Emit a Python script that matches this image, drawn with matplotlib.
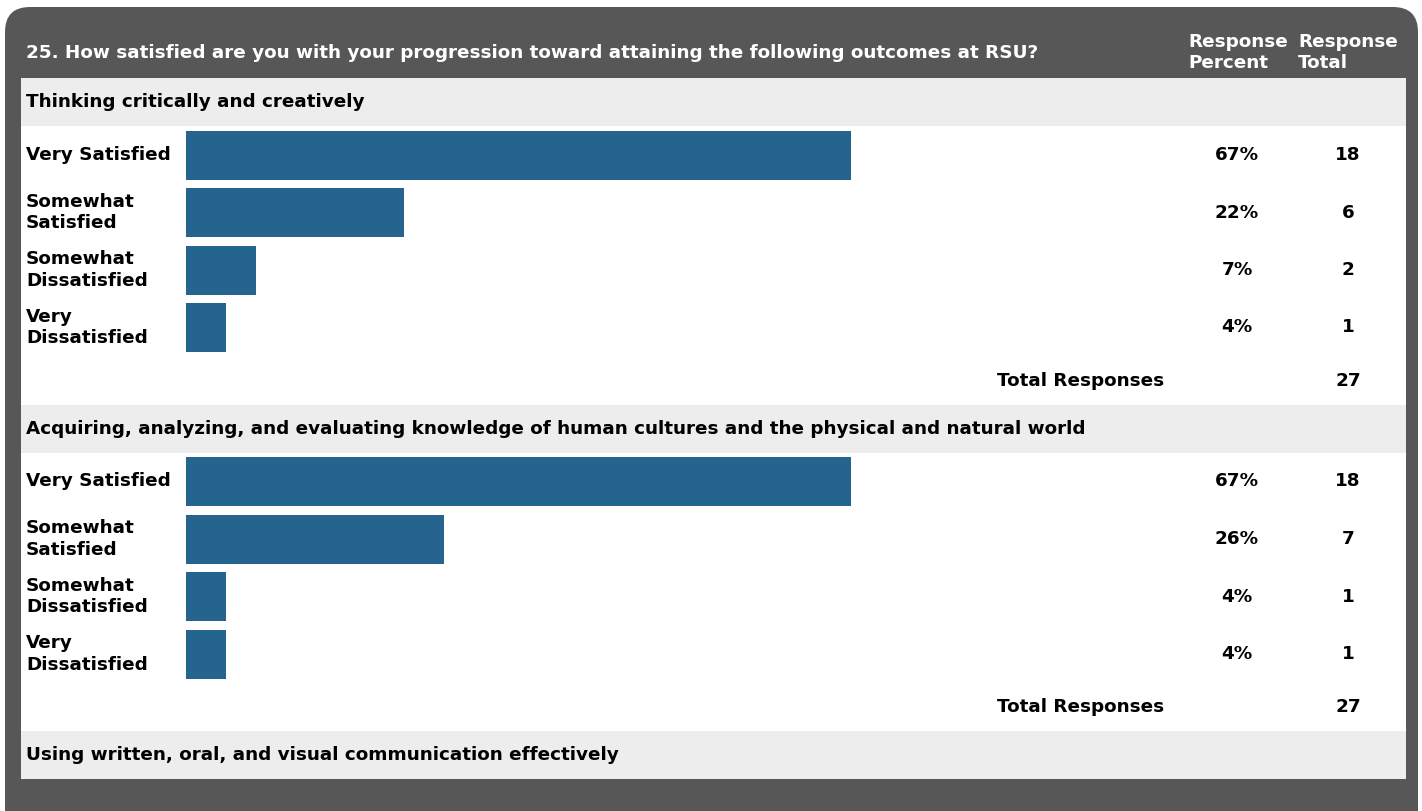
import matplotlib
matplotlib.use("Agg")
import matplotlib.pyplot as plt
from matplotlib.patches import FancyBboxPatch, Rectangle

# ---------------- data ----------------
question = "25. How satisfied are you with your progression toward attaining the following outcomes at RSU?"
col_headers = ["Response\nPercent", "Response\nTotal"]
categories = ["Very Satisfied", "Somewhat\nSatisfied", "Somewhat\nDissatisfied", "Very\nDissatisfied"]
sections = ["Thinking critically and creatively",
            "Acquiring, analyzing, and evaluating knowledge of human cultures and the physical and natural world",
            "Using written, oral, and visual communication effectively"]
percents_1 = [67, 22, 7, 4]
totals_1 = [18, 6, 2, 1]
percents_2 = [67, 26, 4, 4]
totals_2 = [18, 7, 1, 1]
total_responses = [27, 27]

# ---------------- style ----------------
W, H = 1422, 811
DARK = "#575757"
LIGHT = "#EDEDED"
BAR = "#25648E"
FONT = "DejaVu Sans"
FS = 13.2
LS = 1.22

fig = plt.figure(figsize=(W / 100, H / 100), dpi=100)
bg = fig.add_axes([0, 0, 1, 1])
bg.set_xlim(0, W)
bg.set_ylim(H, 0)
bg.axis("off")

# outer dark frame with rounded top corners
bg.add_patch(FancyBboxPatch((5 + 25, 7 + 25), 1413 - 50, 900, boxstyle="round,pad=25",
                            fc=DARK, ec="none", zorder=0))
# inner white panel
bg.add_patch(Rectangle((21, 78), 1385, 701, fc="white", ec="none", zorder=1))

# header text
bg.text(26, 52.5, question, color="white", fontsize=FS, fontweight="bold",
        family=FONT, va="center", ha="left", zorder=3)
bg.text(1188, 52.5, col_headers[0], color="white", fontsize=FS, fontweight="bold",
        family=FONT, va="center", ha="left", linespacing=LS, zorder=3)
bg.text(1298, 52.5, col_headers[1], color="white", fontsize=FS, fontweight="bold",
        family=FONT, va="center", ha="left", linespacing=LS, zorder=3)

# section header bands
band_tops = [78, 405, 731]
for top, name in zip(band_tops, sections):
    bg.add_patch(Rectangle((21, top), 1385, 48, fc=LIGHT, ec="none", zorder=2))
    bg.text(26, top + 24, name, color="black", fontsize=FS, fontweight="bold",
            family=FONT, va="center", ha="left", zorder=3)

# bar sections
row_h = 57.5
first_centers = [155, 481.5]
x0_px, x100_px = 186, 1179
for sec, (pcts, tots, c0, tr) in enumerate(zip([percents_1, percents_2], [totals_1, totals_2],
                                                first_centers, total_responses)):
    top_px = c0 - row_h / 2
    height_px = row_h * len(categories)
    ax = fig.add_axes([x0_px / W, 1 - (top_px + height_px) / H,
                       (x100_px - x0_px) / W, height_px / H])
    ax.set_xlim(0, 100)
    ax.set_ylim(len(categories) - 0.5, -0.5)
    ax.axis("off")
    ypos = list(range(len(categories)))
    ax.barh(ypos, pcts, height=49 / row_h, color=BAR, edgecolor="none")
    for i, (cat, p, t) in enumerate(zip(categories, pcts, tots)):
        yc = c0 + i * row_h
        bg.text(26, yc, cat, fontsize=FS, fontweight="bold", family=FONT,
                va="center", ha="left", linespacing=LS, zorder=3)
        bg.text(1237, yc, f"{p}%", fontsize=FS, fontweight="bold", family=FONT,
                va="center", ha="center", zorder=3)
        bg.text(1348, yc, f"{t}", fontsize=FS, fontweight="bold", family=FONT,
                va="center", ha="center", zorder=3)
    ytot = c0 + 3 * row_h + 53.5
    bg.text(1164, ytot, "Total Responses", fontsize=FS, fontweight="bold", family=FONT,
            va="center", ha="right", zorder=3)
    bg.text(1348, ytot, f"{tr}", fontsize=FS, fontweight="bold", family=FONT,
            va="center", ha="center", zorder=3)

fig.savefig("out.png", dpi=100, facecolor="white")
